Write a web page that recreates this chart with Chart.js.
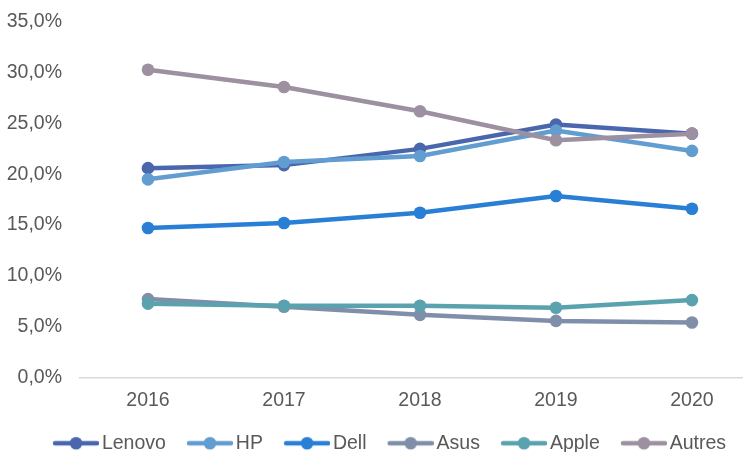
<!DOCTYPE html>
<html>
<head>
<meta charset="utf-8">
<script src="https://cdn.jsdelivr.net/npm/chart.js@4/dist/chart.umd.min.js"></script>
<style>
  body { margin: 0; background: #fff; }
  #wrap { width: 751px; height: 452px; }
</style>
</head>
<body>
<div id="wrap"><canvas id="chart"></canvas></div>
<script>
// === Data ===
const years = [2016, 2017, 2018, 2019, 2020];
const seriesNames = ["Lenovo", "HP", "Dell", "Asus", "Apple", "Autres"];
const lenovo = [20.6, 20.9, 22.5, 24.9, 24.0];
const hp = [19.5, 21.2, 21.8, 24.3, 22.3];
const dell = [14.7, 15.2, 16.2, 17.85, 16.6];
const asus = [7.7, 6.95, 6.15, 5.55, 5.4];
const apple = [7.25, 7.05, 7.05, 6.85, 7.6];
const autres = [30.3, 28.6, 26.2, 23.35, 24.0];
const yTicks = [0, 5, 10, 15, 20, 25, 30, 35];

const seriesValues = [lenovo, hp, dell, asus, apple, autres];
const colors = ["#4a66ac", "#629dd1", "#297fd5", "#7f8fa9", "#5aa2ae", "#9d90a0"];

// legend marker: line with a dot, drawn into a small canvas
function makeMarker(color) {
  const c = document.createElement("canvas");
  c.width = 70;
  c.height = 20;
  const g = c.getContext("2d");
  g.strokeStyle = color;
  g.lineWidth = 4.5;
  g.lineCap = "round";
  g.beginPath();
  g.moveTo(26, 10);
  g.lineTo(68, 10);
  g.stroke();
  g.fillStyle = color;
  g.beginPath();
  g.arc(47, 10, 6.3, 0, Math.PI * 2);
  g.fill();
  return c;
}

const datasets = seriesNames.map((name, i) => ({
  label: name,
  data: years.map((yr, j) => ({ x: yr, y: seriesValues[i][j] })),
  borderColor: colors[i],
  backgroundColor: colors[i],
  pointBackgroundColor: colors[i],
  pointBorderColor: colors[i],
  borderWidth: 4.5,
  pointRadius: 6.3,
  pointBorderWidth: 0,
  tension: 0,
  order: -i,
}));

const fontFamily = "'Liberation Sans', Arial, sans-serif";
const textColor = "#595959";

// nudge the legend row a bit to the right, like the original
const legendShift = {
  id: "legendShift",
  afterLayout(chart) {
    chart.legend.left += 10;
    chart.legend.right += 10;
  },
};

new Chart(document.getElementById("chart"), {
  type: "line",
  data: { datasets },
  plugins: [legendShift],
  options: {
    responsive: true,
    maintainAspectRatio: false,
    animation: false,
    layout: { padding: { left: 0, top: 22, right: 9, bottom: -11 } },
    plugins: {
      tooltip: { enabled: false },
      legend: {
        position: "bottom",
        labels: {
          usePointStyle: true,
          pointStyleWidth: 56.25,
          padding: 4,
          color: textColor,
          font: { family: fontFamily, size: 19.5 },
          generateLabels: (chart) => {
            const items = Chart.defaults.plugins.legend.labels.generateLabels(chart);
            items.sort((a, b) => a.datasetIndex - b.datasetIndex);
            items.forEach((it) => {
              it.pointStyle = makeMarker(colors[it.datasetIndex]);
            });
            return items;
          },
        },
      },
    },
    scales: {
      x: {
        type: "linear",
        min: 2015.5,
        max: 2020.368,
        grid: { display: false, drawTicks: false },
        border: { display: true, color: "#d9d9d9", width: 1.5 },
        afterBuildTicks: (scale) => {
          scale.ticks = years.map((v) => ({ value: v }));
        },
        afterFit: (scale) => {
          scale.height = 52.25;
        },
        ticks: {
          padding: 12,
          color: textColor,
          font: { family: fontFamily, size: 19.5 },
          callback: (v) => String(v),
        },
      },
      y: {
        min: 0,
        max: 35,
        grid: { display: false, drawTicks: false },
        border: { display: false },
        afterBuildTicks: (scale) => {
          scale.ticks = yTicks.map((v) => ({ value: v }));
        },
        afterFit: (scale) => {
          scale.width = 80;
          scale.paddingTop = 0;
          scale.paddingBottom = 0;
        },
        ticks: {
          padding: 18,
          color: textColor,
          font: { family: fontFamily, size: 19.5 },
          callback: (v) => v.toFixed(1).replace(".", ",") + "%",
        },
      },
    },
  },
});
</script>
</body>
</html>
